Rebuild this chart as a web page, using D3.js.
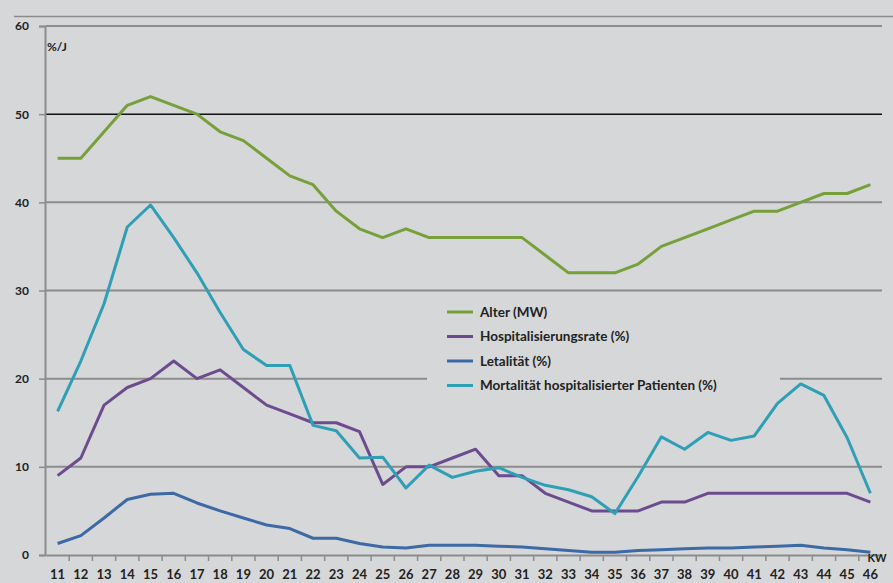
<!DOCTYPE html>
<html>
<head>
<meta charset="utf-8">
<script src="https://cdn.jsdelivr.net/npm/d3@7"></script>
<style>
  body { margin: 0; background: #d5d7d8; }
  text { font-family: Lato, "Open Sans", sans-serif; font-weight: bold; fill: #222; }
</style>
</head>
<body>
<div id="chart"></div>
<script>
// Kalenderwochen
var weeks = d3.range(11, 47);

// Series values, read per week
var alter = [45, 45, 48, 51, 52, 51, 50, 48, 47, 45, 43, 42, 39, 37, 36, 37, 36, 36,
  36, 36, 36, 34, 32, 32, 32, 33, 35, 36, 37, 38, 39, 39, 40, 41, 41, 42];
var hospital = [9, 11, 17, 19, 20, 22, 20, 21, 19, 17, 16, 15, 15, 14, 8, 10, 10, 11,
  12, 9, 9, 7, 6, 5, 5, 5, 6, 6, 7, 7, 7, 7, 7, 7, 7, 6];
var letal = [1.3, 2.2, 4.2, 6.3, 6.9, 7.0, 5.9, 5.0, 4.2, 3.4, 3.0, 1.9, 1.9, 1.3, 0.9, 0.8, 1.1, 1.1,
  1.1, 1.0, 0.9, 0.7, 0.5, 0.3, 0.3, 0.5, 0.6, 0.7, 0.8, 0.8, 0.9, 1.0, 1.1, 0.8, 0.6, 0.3];
var mortal = [16.3, 22, 28.5, 37.2, 39.7, 36, 32, 27.5, 23.3, 21.5, 21.5, 14.7, 14.1, 11, 11.1, 7.6, 10.2, 8.8,
  9.5, 9.9, 8.8, 7.9, 7.4, 6.6, 4.7, 8.9, 13.4, 12, 13.9, 13, 13.5, 17.2, 19.4, 18.1, 13.3, 7];

var yTicks = [0, 10, 20, 30, 40, 50, 60];

var series = [
  {name: "Alter (MW)", values: alter, color: "#77a03b"},
  {name: "Hospitalisierungsrate (%)", values: hospital, color: "#6c4c8e"},
  {name: "Letalität (%)", values: letal, color: "#3d69a5"},
  {name: "Mortalität hospitalisierter Patienten (%)", values: mortal, color: "#2f9fb5"}
];

var W = 893, H = 583;
var svg = d3.select("#chart").append("svg")
  .attr("width", W)
  .attr("height", H);

// top rule (title area cut off)
svg.append("line")
  .attr("x1", 14).attr("x2", W).attr("y1", 16.5).attr("y2", 16.5)
  .attr("stroke", "#8a8a8a").attr("stroke-width", 1.5);

var x = d3.scaleBand()
  .domain(weeks)
  .range([46, 882]);
var y = d3.scaleLinear()
  .domain([0, 60])
  .range([555, 26]);

// gridlines
svg.append("g").selectAll("line")
  .data(yTicks.filter((t) => t > 0))
  .enter().append("line")
  .attr("x1", 46).attr("x2", 882)
  .attr("y1", (d) => y(d)).attr("y2", (d) => y(d))
  .attr("stroke", (d) => d === 50 ? "#111" : "#8c8c8c")
  .attr("stroke-width", (d) => d === 50 ? 1.5 : 2);

// y axis
var yAxis = d3.axisLeft(y)
  .tickValues(yTicks)
  .tickSize(6)
  .tickPadding(10);
var gy = svg.append("g")
  .attr("transform", "translate(45,0)")
  .call(yAxis);
gy.select(".domain").attr("stroke", "#8c8c8c").attr("stroke-width", 2);
gy.selectAll(".tick line").attr("stroke", "#8c8c8c").attr("stroke-width", 1.5);
gy.selectAll(".tick text").style("font-size", "12px").attr("fill", "#222");

// x axis
var xAxis = d3.axisBottom(x)
  .tickSize(0)
  .tickPadding(15);
var gx = svg.append("g")
  .attr("transform", "translate(0,555)")
  .call(xAxis);
gx.select(".domain").attr("stroke", "#8c8c8c").attr("stroke-width", 2);
gx.selectAll(".tick text").style("font-size", "13px").attr("fill", "#222");
// tick marks between categories
svg.append("g").selectAll("line")
  .data(weeks.slice(1))
  .enter().append("line")
  .attr("x1", (d) => x(d)).attr("x2", (d) => x(d))
  .attr("y1", 555).attr("y2", 561)
  .attr("stroke", "#8c8c8c").attr("stroke-width", 1.5);

// axis titles
svg.append("text").attr("x", 47).attr("y", 51).style("font-size", "12px").text("%/J");
svg.append("text").attr("x", 877).attr("y", 562).attr("text-anchor", "middle")
  .style("font-size", "11px").text("KW");

// legend box hides gridline underneath
var lg = svg.append("g").attr("transform", "translate(427,296)");
lg.append("rect")
  .attr("width", 353).attr("height", 90)
  .attr("fill", "#d5d7d8");

// lines
var line = d3.line()
  .x((d, i) => x(weeks[i]) + x.bandwidth() / 2)
  .y((d) => y(d));

svg.append("g").selectAll("path")
  .data(series)
  .enter().append("path")
  .attr("d", (d) => line(d.values))
  .attr("fill", "none")
  .attr("stroke", (d) => d.color)
  .attr("stroke-width", 3)
  .attr("stroke-linejoin", "round");

// legend entries
var item = lg.selectAll(".item")
  .data(series)
  .enter().append("g")
  .attr("class", "item")
  .attr("transform", (d, i) => `translate(0, ${16 + i * 24.5})`);
item.append("line")
  .attr("x1", 20).attr("x2", 46)
  .attr("stroke", (d) => d.color)
  .attr("stroke-width", 3);
item.append("text")
  .attr("x", 53).attr("dy", "0.35em")
  .style("font-size", "13.5px")
  .text((d) => d.name);
</script>
</body>
</html>
